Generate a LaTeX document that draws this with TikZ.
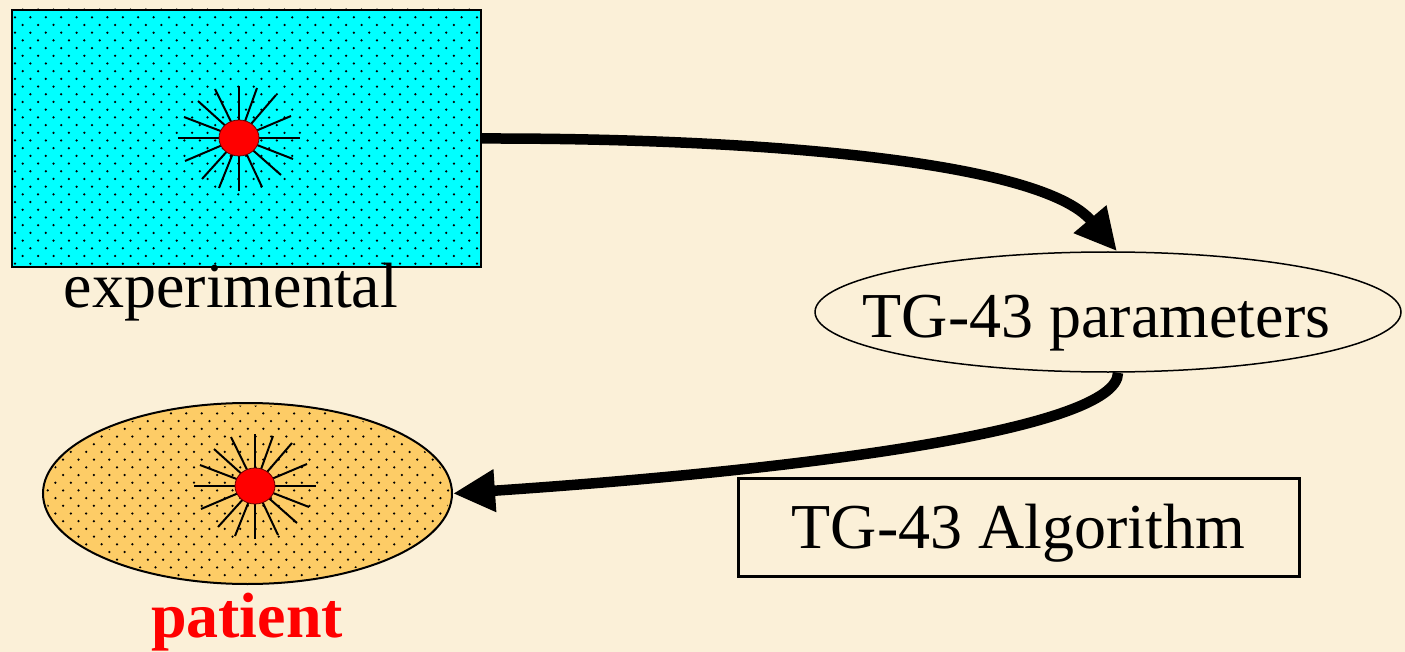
\documentclass[tikz,border=0pt]{standalone}
\usepackage{fontspec}
\setmainfont{Liberation Serif}
\usetikzlibrary{shapes.geometric,arrows.meta}

\definecolor{parchment}{RGB}{251,240,216}
\definecolor{watercyan}{RGB}{0,255,255}
\definecolor{tissue}{RGB}{253,204,102}
\definecolor{seedred}{RGB}{255,0,0}
\newcommand\bigtext{\fontsize{64}{72}\selectfont}

% staggered dot screen starting at (#1,#2), #3 columns by #4 row pairs
\newcommand\dotscreen[4]{%
  \foreach \j in {0,...,#4} {
    \foreach \i in {0,...,#3} {
      \fill[black] (#1+7.7+15.4*\i, #2+15.4*\j) circle (1.25);
      \fill[black] (#1+15.4*\i, #2+7.7+15.4*\j) circle (1.25);
    }
  }%
}

\tikzset{
  % radioactive seed: red disc with radiating lines
  pics/seed/.style={code={
    \foreach \a/\b in {0/-52, 18/-50, 37/-43, 52/-22, 61/0, 54/21, 42/37, 23/49,
                       0/53, -20/50, -37/41, -54/23, -61/0, -55/-21, -41/-37, -24/-49}
      \draw[black, line width=2pt] (0,0) -- (\a,\b);
    \filldraw[fill=seedred, draw=black!60!red, line width=0.8pt]
      (0,0) ellipse [x radius=20, y radius=18];
  }},
  flow/.style={line width=10.5pt, -{Triangle[length=42pt,width=40pt]}},
  every node/.style={font=\bigtext}
}

\begin{document}
\begin{tikzpicture}[x=1pt, y=-1pt]
  \fill[parchment] (0,0) rectangle (1405,652);
  \useasboundingbox (0,0) rectangle (1405,652);

  % water phantom
  \node[draw, line width=2pt, fill=watercyan, minimum width=469pt, minimum height=257pt,
        inner sep=0pt] (exp) at (246.5,138.5) {};
  \begin{scope}
    \clip ([shift={(1.5,-1.5)}]exp.north west) rectangle ([shift={(-1.5,1.5)}]exp.south east);
    \dotscreen{15}{9.6}{31}{17}
  \end{scope}
  \pic at (239,138) {seed};
  \node[anchor=base] (explabel) at (231,308) {experimental};

  % patient
  \node[ellipse, draw, line width=2pt, fill=tissue, minimum width=409pt, minimum height=181pt,
        inner sep=0pt] (pat) at (247.5,493.5) {};
  \begin{scope}
    \clip (pat.center) ellipse [x radius=202, y radius=88];
    \dotscreen{40}{398}{28}{13}
  \end{scope}
  \pic at (255,486) {seed};
  \node[anchor=base, text=seedred, font=\bigtext\bfseries] (patlabel) at (247,637) {patient};

  % dosimetry parameters
  \node[ellipse, draw, line width=1.5pt, minimum width=586pt, minimum height=120pt,
        inner sep=0pt] (par) at (1108,312) {};
  \node[anchor=base] (parlabel) at (1096.5,337) {TG-43 parameters};

  % algorithm
  \node[draw, line width=3pt, minimum width=561pt, minimum height=98pt, inner sep=0pt,
        text height=43pt, text depth=0pt] (alg) at (1018.5,527) {TG-43 Algorithm};

  % flow of data
  \draw[flow] (exp.east) .. controls (750,138) and (1040,160) .. ([xshift=9pt]par.north);
  \draw[flow] ([xshift=10pt]par.south) .. controls (1118,430) and (800,470) .. (pat.east);
\end{tikzpicture}
\end{document}
